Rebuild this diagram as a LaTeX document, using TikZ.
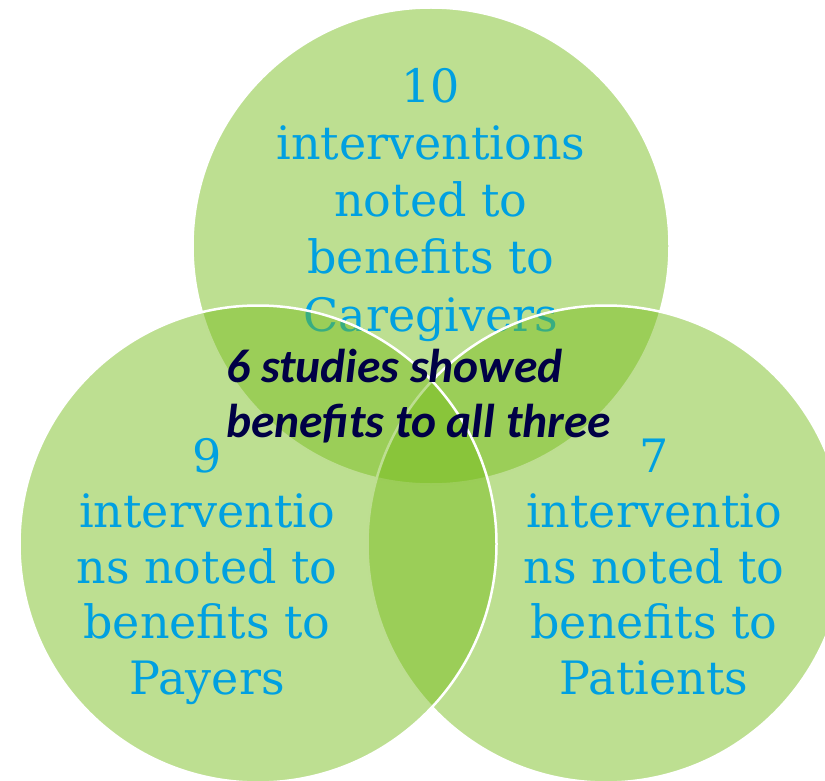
\documentclass[tikz,border=0pt]{standalone}
\usepackage{fontspec}
\setmainfont{DejaVu Serif}
\newfontfamily\calibrifont{Carlito}
\definecolor{venngreen}{RGB}{118,188,26}
\definecolor{countblue}{RGB}{0,160,225}
\definecolor{studynavy}{RGB}{0,0,70}
\tikzset{venn/.style={circle,draw=white,line width=2.5pt,fill=venngreen,fill opacity=0.48,minimum size=477pt,inner sep=0pt},
  toplabel/.style={align=center,text=countblue,font=\fontsize{46}{57.2}\selectfont,inner sep=0pt,anchor=base},
  sidelabel/.style={align=center,text=countblue,font=\fontsize{46}{55.5}\selectfont,inner sep=0pt,anchor=base},
  alllabel/.style={align=left,text=studynavy,font=\calibrifont\bfseries\itshape\fontsize{47.5}{55}\selectfont,inner sep=0pt,anchor=base west}}

\begin{document}
\begin{tikzpicture}[x=1pt,y=-1pt]

\clip (0,0) rectangle (825,781);

% caregivers
\node[venn] (careset) at (431,246) {};
\node[toplabel] (care) at (431,331) {10\\interventions\\noted to\\benefits to\\Caregivers};

% patients
\node[venn] (patientset) at (606,544) {};
\node[sidelabel] (patient) at (654,694) {7\\interventio\\ns noted to\\benefits to\\Patients};

% payers
\node[venn] (payerset) at (258,544) {};
\node[sidelabel] (payer) at (207,694) {9\\interventio\\ns noted to\\benefits to\\Payers};

% centre
\node[alllabel] (allthree) at (226,437) {6 studies showed\\benefits to all three};

\end{tikzpicture}
\end{document}
